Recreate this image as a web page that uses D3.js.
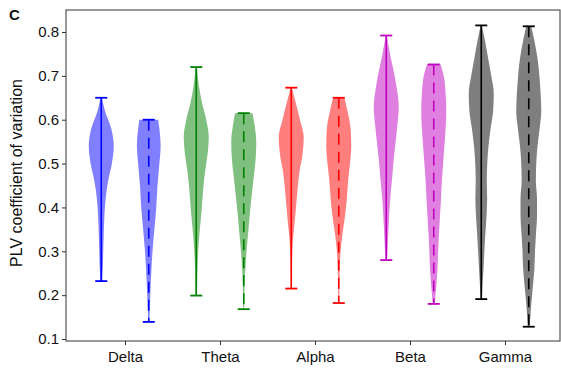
<!DOCTYPE html>
<html>
<head>
<meta charset="utf-8">
<script src="https://cdn.jsdelivr.net/npm/d3@7"></script>
<style>
  body { margin: 0; background: #fff; }
  text { font-family: "Liberation Sans", Arial, sans-serif; fill: #111; }
</style>
</head>
<body>
<svg width="561" height="369"></svg>
<script>
// bands on the x axis
const bands = ["Delta", "Theta", "Alpha", "Beta", "Gamma"];
const lineColors = ["#0000ff", "#008000", "#ff0000", "#bf00bf", "#000000"];
const yTicks = [0.1, 0.2, 0.3, 0.4, 0.5, 0.6, 0.7, 0.8];

// violin profiles: [value, relative density]
// first of each pair is the solid one, second the dashed one
const deltaA = [[0.65,0.05],[0.62,0.3],[0.58,0.8],[0.54,1.0],[0.50,0.85],[0.46,0.55],[0.42,0.35],[0.38,0.25],[0.34,0.2],[0.30,0.16],[0.26,0.12],[0.232,0.07]];
const deltaB = [[0.6,0.75],[0.58,0.85],[0.54,0.95],[0.50,0.85],[0.45,0.7],[0.40,0.6],[0.35,0.45],[0.30,0.3],[0.25,0.2],[0.20,0.12],[0.139,0.05]];
const thetaA = [[0.72,0.05],[0.68,0.2],[0.64,0.45],[0.60,0.8],[0.56,1.0],[0.52,0.9],[0.48,0.7],[0.44,0.55],[0.40,0.45],[0.36,0.32],[0.32,0.2],[0.28,0.12],[0.24,0.08],[0.199,0.05]];
const thetaB = [[0.615,0.7],[0.59,0.85],[0.55,1.0],[0.51,0.95],[0.47,0.8],[0.43,0.65],[0.39,0.5],[0.35,0.38],[0.31,0.25],[0.27,0.15],[0.23,0.08],[0.168,0.04]];
const alphaA = [[0.673,0.05],[0.64,0.35],[0.60,0.7],[0.56,1.0],[0.52,0.9],[0.48,0.65],[0.44,0.5],[0.40,0.38],[0.36,0.25],[0.32,0.12],[0.28,0.07],[0.215,0.04]];
const alphaB = [[0.65,0.45],[0.62,0.7],[0.58,0.95],[0.54,1.0],[0.50,0.9],[0.46,0.75],[0.42,0.65],[0.38,0.5],[0.34,0.3],[0.30,0.15],[0.26,0.08],[0.182,0.04]];
const betaA  = [[0.792,0.05],[0.75,0.3],[0.71,0.6],[0.67,0.85],[0.63,1.0],[0.59,0.9],[0.55,0.75],[0.51,0.6],[0.47,0.48],[0.43,0.35],[0.39,0.25],[0.35,0.18],[0.31,0.12],[0.28,0.06]];
const betaB  = [[0.726,0.55],[0.70,0.8],[0.66,0.95],[0.62,1.0],[0.58,0.95],[0.54,0.85],[0.50,0.75],[0.46,0.65],[0.42,0.58],[0.38,0.5],[0.34,0.42],[0.30,0.35],[0.26,0.3],[0.22,0.2],[0.18,0.08]];
const gammaA = [[0.815,0.05],[0.78,0.3],[0.74,0.55],[0.70,0.8],[0.66,1.0],[0.62,0.95],[0.58,0.75],[0.54,0.58],[0.50,0.48],[0.46,0.44],[0.42,0.47],[0.38,0.42],[0.34,0.33],[0.30,0.25],[0.26,0.18],[0.22,0.1],[0.191,0.06]];
const gammaB = [[0.813,0.2],[0.78,0.45],[0.74,0.7],[0.70,0.85],[0.66,0.95],[0.62,1.0],[0.58,0.87],[0.54,0.7],[0.50,0.6],[0.46,0.57],[0.42,0.66],[0.38,0.66],[0.34,0.58],[0.30,0.5],[0.26,0.45],[0.22,0.33],[0.18,0.2],[0.128,0.08]];

const profiles = [[deltaA, deltaB], [thetaA, thetaB], [alphaA, alphaB], [betaA, betaB], [gammaA, gammaB]];

const svg = d3.select("svg");
const plotL = 66, plotR = 560, plotT = 10, plotB = 341;

// positions 1..5, like matplotlib
const x = d3.scaleLinear().domain([1, 5]).range([125, 505]);
const y = d3.scaleLinear().domain([0.1, 0.8]).range([339, 32]);
const w = d3.scaleLinear().domain([0, 1]).range([0, 12.5]);

// violins
profiles.forEach((pair, i) => {
  pair.forEach((prof, j) => {
    const cx = x(i + 1 + (j === 0 ? -0.25 : 0.25));
    const area = d3.area()
      .y(d => y(d[0]))
      .x0(d => cx - w(d[1]))
      .x1(d => cx + w(d[1]))
      .curve(d3.curveMonotoneY);
    svg.append("path")
      .attr("d", area(prof.slice().reverse()))
      .attr("fill", lineColors[i])
      .attr("fill-opacity", 0.5)
      .attr("stroke", "none");

    const vmax = prof[0][0], vmin = prof[prof.length - 1][0];
    svg.append("line")
      .attr("x1", cx).attr("x2", cx)
      .attr("y1", y(vmax)).attr("y2", y(vmin))
      .attr("stroke", lineColors[i])
      .attr("stroke-width", 1.6)
      .attr("stroke-dasharray", j === 1 ? "11,7" : null);
    [vmax, vmin].forEach(v => {
      svg.append("line")
        .attr("x1", cx - 6).attr("x2", cx + 6)
        .attr("y1", y(v)).attr("y2", y(v))
        .attr("stroke", lineColors[i])
        .attr("stroke-width", 1.8);
    });
  });
});

// frame
svg.append("rect")
  .attr("x", plotL).attr("y", plotT)
  .attr("width", plotR - plotL).attr("height", plotB - plotT)
  .attr("fill", "none").attr("stroke", "#555").attr("stroke-width", 1.2);

// y axis
const yAxis = svg.append("g")
  .attr("transform", `translate(${plotL},0)`)
  .call(d3.axisLeft(y).tickValues(yTicks).tickFormat(d3.format(".1f")).tickSize(4).tickPadding(3));
yAxis.select(".domain").remove();
yAxis.selectAll("line").attr("stroke", "#333");
yAxis.selectAll("text").attr("font-size", 15).attr("font-family", "Liberation Sans, Arial, sans-serif").attr("fill", "#111");

// x axis
const xAxis = svg.append("g")
  .attr("transform", `translate(0,${plotB})`)
  .call(d3.axisBottom(x).tickValues([1, 2, 3, 4, 5]).tickFormat(d => bands[d - 1]).tickSize(4).tickPadding(6));
xAxis.select(".domain").remove();
xAxis.selectAll("line").attr("stroke", "#333");
xAxis.selectAll("text").attr("font-size", 15).attr("font-family", "Liberation Sans, Arial, sans-serif").attr("fill", "#111");

// labels
svg.append("text")
  .attr("transform", `translate(22,173) rotate(-90)`)
  .attr("text-anchor", "middle")
  .attr("font-size", 16)
  .text("PLV coefficient of variation");

svg.append("text")
  .attr("x", 9).attr("y", 20)
  .attr("font-size", 15)
  .attr("font-weight", "bold")
  .text("C");
</script>
</body>
</html>
